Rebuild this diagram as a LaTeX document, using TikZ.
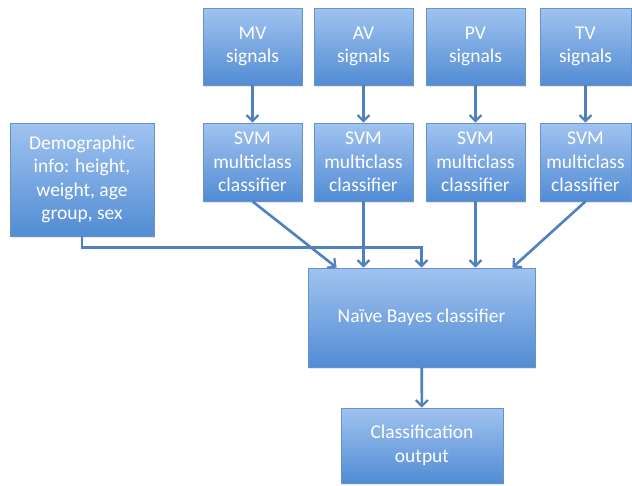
\documentclass[tikz,border=0pt]{standalone}
\usepackage{fontspec}
\setmainfont{Carlito}
\usetikzlibrary{arrows.meta,shadows}
\definecolor{boxtop}{RGB}{160,195,240}
\definecolor{boxbot}{RGB}{82,140,212}
\definecolor{boxline}{RGB}{104,146,204}
\definecolor{wire}{RGB}{80,128,192}
\begin{document}
\begin{tikzpicture}[x=1pt,y=-1pt,
  box/.style={draw=boxline,line width=0.8pt,top color=boxtop,bottom color=boxbot,
    text=white,align=center,inner sep=2pt,font=\fontsize{19.5}{23.5}\selectfont,
    drop shadow={opacity=0.2,shadow xshift=1pt,shadow yshift=-1.5pt}},
  wireto/.style={draw=wire,line width=2.6pt,-{Straight Barb[length=6pt,width=12pt,line width=2.2pt]}}]
\useasboundingbox (0,0) rectangle (632,485);
\foreach \n/\x/\w in {MV/252.5/99,AV/363.5/99,PV/475.5/99,TV/585.5/91} {
  \node[box,minimum width=\w,minimum height=77] (sig\n) at (\x,46.5) {\n\\signals};
  \node[box,minimum width=\w,minimum height=78] (svm\n) at (\x,162) {SVM\\multiclass\\classifier};
  \draw[wireto] (sig\n) -- (svm\n);
}
\node[box,minimum width=144,minimum height=113] (demo) at (82,179.5) {Demographic\\info: height,\\weight, age\\group, sex};
\node[box,minimum width=227,minimum height=99] (nb) at (421.5,317.5) {Naïve Bayes classifier};
\node[box,minimum width=162,minimum height=75] (out) at (422,445.5) {Classification\\output};
\draw[wireto] (demo.south) -- ++(0,11) -| (nb.north);
\draw[wireto] (svmMV.south) -- ([xshift=29pt]nb.north west);
\draw[wireto] (svmAV) -- (svmAV |- nb.north);
\draw[wireto] (svmPV) -- (svmPV |- nb.north);
\draw[wireto] (svmTV.south) -- ([xshift=-23pt]nb.north east);
\draw[wireto] (nb) -- (out);
\end{tikzpicture}
\end{document}
